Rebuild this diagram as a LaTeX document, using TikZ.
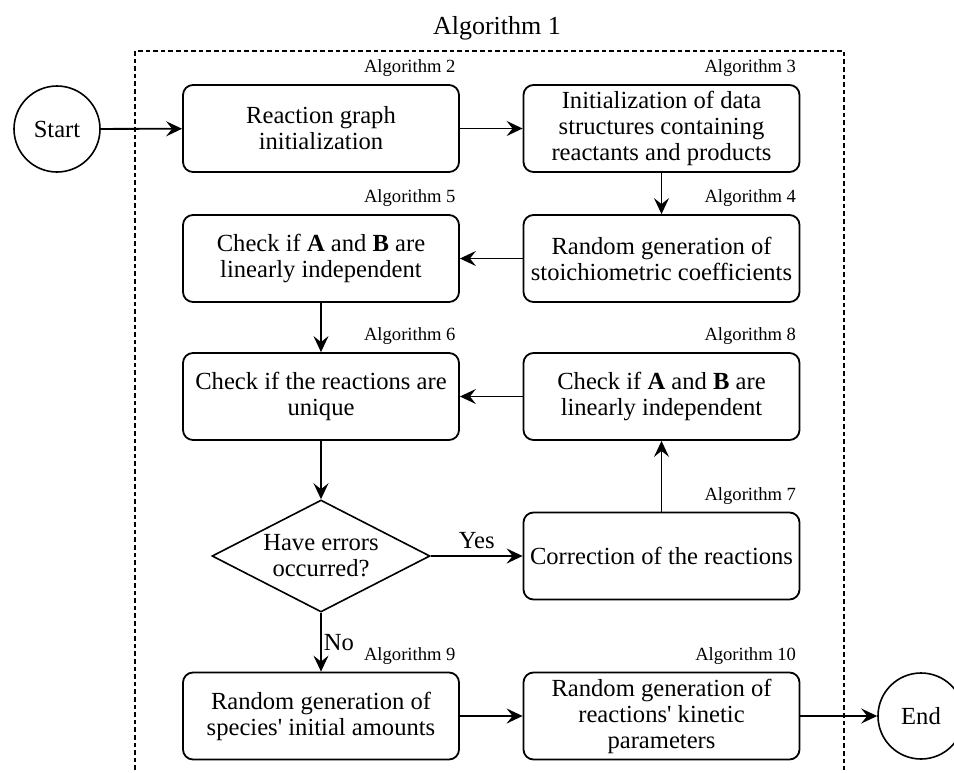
\documentclass[tikz,border=0pt]{standalone}
\usepackage{fontspec}
\setmainfont{Liberation Serif}
\usetikzlibrary{arrows.meta,shapes.geometric}
\newcommand\mainfs{\fontsize{12.3}{13}\selectfont}
\newcommand\lblfs{\fontsize{9.3}{10}\selectfont}
\newcommand\titlefs{\fontsize{13}{15}\selectfont}
\begin{document}
\begin{tikzpicture}[x=0.5pt,y=-0.5pt,
  box/.style={draw, rounded corners=5pt, line width=0.9pt, minimum width=138pt, minimum height=43.5pt, align=center, font=\mainfs, inner sep=2pt},
  circ/.style={draw, circle, line width=0.8pt, minimum size=43pt, inner sep=0pt, font=\mainfs},
  dia/.style={draw, diamond, aspect=2, line width=0.8pt, minimum width=109pt, minimum height=56pt, inner sep=0pt, align=center, font=\mainfs},
  lbl/.style={inner sep=0pt, font=\lblfs, anchor=south east},
  arr/.style={line width=0.9pt, -{Stealth[length=8pt,width=7.5pt,inset=3pt]}},
  frame/.style={line width=0.8pt, dash pattern=on 2.3pt off 1.5pt}]
\useasboundingbox (0,0) rectangle (954,772);
% frame
\node[font=\titlefs, inner sep=0pt] (title) at (497,28) {Algorithm 1};
\coordinate (fbl) at (135,770);
\coordinate (ftl) at (135,51);
\coordinate (ftr) at (844,51);
\coordinate (fbr) at (844,770);
\draw[frame] (fbl) -- (ftl) -- (ftr) -- (fbr);
% nodes
\node[circ] (start) at (57,129) {Start};
\node[box] (b2) at (321,128.5) {Reaction graph\\initialization};
\node[box] (b3) at (661.5,128.5) {Initialization of data\\structures containing\\reactants and products};
\node[box] (b4) at (661.5,258.5) {Random generation of\\stoichiometric coefficients};
\node[box] (b5) at (321,258.5) {Check if \textbf{A} and \textbf{B} are\\linearly independent};
\node[box] (b6) at (321,396.5) {Check if the reactions are\\unique};
\node[box] (b8) at (661.5,396.5) {Check if \textbf{A} and \textbf{B} are\\linearly independent};
\node[dia] (d) at (321,556) {Have errors\\occurred?};
\node[box] (b7) at (661.5,556) {Correction of the reactions};
\node[box] (b9) at (321,716) {Random generation of\\species\textquotesingle{} initial amounts};
\node[box] (b10) at (661.5,716) {Random generation of\\reactions\textquotesingle{} kinetic\\parameters};
\node[circ] (end) at (921,716) {End};
% labels
\node[lbl] (l2) at ([xshift=-2pt,yshift=3.5pt]b2.north east) {Algorithm 2};
\node[lbl] (l3) at ([xshift=-2pt,yshift=3.5pt]b3.north east) {Algorithm 3};
\node[lbl] (l4) at ([xshift=-2pt,yshift=3.5pt]b4.north east) {Algorithm 4};
\node[lbl] (l5) at ([xshift=-2pt,yshift=3.5pt]b5.north east) {Algorithm 5};
\node[lbl] (l6) at ([xshift=-2pt,yshift=3.5pt]b6.north east) {Algorithm 6};
\node[lbl] (l7) at ([xshift=-2pt,yshift=3.5pt]b7.north east) {Algorithm 7};
\node[lbl] (l8) at ([xshift=-2pt,yshift=3.5pt]b8.north east) {Algorithm 8};
\node[lbl] (l9) at ([xshift=-2pt,yshift=3.5pt]b9.north east) {Algorithm 9};
\node[lbl] (l10) at ([xshift=-2pt,yshift=3.5pt]b10.north east) {Algorithm 10};
% connectors
\draw[arr] (start) -- (b2);
\draw[arr] (b2) -- (b3);
\draw[arr] (b3) -- (b4);
\draw[arr] (b4) -- (b5);
\draw[arr] (b5) -- (b6);
\draw[arr] (b8) -- (b6);
\draw[arr] (b6) -- (d);
\draw[arr] (d) -- node[above, font=\mainfs] (yes) {Yes} (b7);
\draw[arr] (b7) -- (b8);
\draw[arr] (d) -- node[right, inner sep=1pt, font=\mainfs] (no) {No} (b9);
\draw[arr] (b9) -- (b10);
\draw[arr] (b10) -- (end);
\end{tikzpicture}
\end{document}
